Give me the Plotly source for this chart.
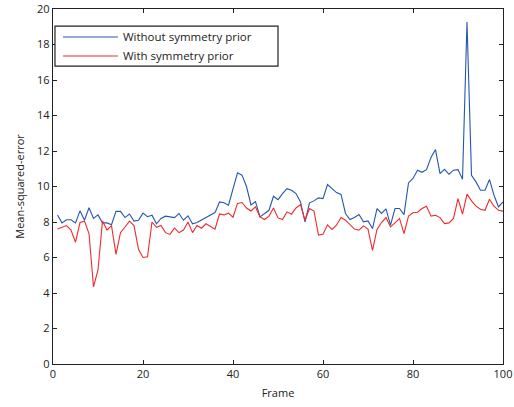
import plotly.graph_objects as go

frames = list(range(1, 101))

without_prior = [
    8.40, 7.95, 8.13, 8.13, 7.95, 8.63, 8.10, 8.80, 8.20, 8.40,
    7.95, 7.95, 7.85, 8.60, 8.60, 8.25, 8.45, 8.05, 8.10, 8.50,
    8.30, 8.38, 7.90, 8.20, 8.33, 8.30, 8.25, 8.48, 8.10, 8.35,
    7.90, 7.97, 8.10, 8.23, 8.38, 8.53, 9.13, 9.08, 8.95, 9.80,
    10.77, 10.64, 10.00, 8.96, 9.15, 8.29, 8.47, 8.66, 9.45, 9.26,
    9.60, 9.88, 9.79, 9.60, 9.13, 8.00, 9.08, 9.19, 9.36, 9.32,
    10.11, 9.89, 9.66, 9.55, 8.48, 8.14, 8.25, 8.42, 8.01, 8.06,
    7.63, 8.76, 8.48, 8.74, 7.82, 8.76, 8.76, 8.42, 10.20, 10.45,
    10.92, 10.80, 10.95, 11.63, 12.08, 10.73, 10.97, 10.69, 10.92, 10.95,
    10.41, 19.27, 10.63, 10.26, 9.79, 9.79, 10.39, 9.51, 8.85, 9.13,
]

with_prior = [
    7.60, 7.72, 7.80, 7.55, 6.86, 7.97, 8.05, 7.35, 4.35, 5.30,
    8.05, 7.55, 7.80, 6.18, 7.40, 7.72, 8.05, 7.80, 6.46, 6.00,
    6.04, 8.00, 7.70, 7.80, 7.40, 7.30, 7.65, 7.40, 7.55, 8.00,
    7.40, 7.80, 7.65, 7.90, 7.77, 7.60, 8.45, 8.40, 8.50, 8.27,
    9.05, 9.10, 8.79, 8.62, 8.85, 8.29, 8.14, 8.33, 8.79, 8.23,
    8.14, 8.57, 8.44, 8.79, 8.98, 8.10, 8.76, 8.62, 7.26, 7.31,
    7.84, 7.58, 7.82, 8.25, 8.10, 7.87, 7.60, 7.54, 7.78, 7.60,
    6.40, 7.58, 7.97, 8.25, 7.72, 7.95, 8.20, 7.35, 8.33, 8.52,
    8.55, 8.76, 8.89, 8.33, 8.38, 8.25, 7.91, 7.95, 8.20, 9.32,
    8.44, 9.57, 9.19, 8.89, 8.72, 8.66, 9.28, 8.89, 8.66, 8.61,
]

x_ticks = [0, 20, 40, 60, 80, 100]
y_ticks = [0, 2, 4, 6, 8, 10, 12, 14, 16, 18, 20]

fig = go.Figure()
fig.add_trace(go.Scatter(x=frames, y=without_prior, mode="lines",
                         name="Without symmetry prior",
                         line=dict(color="#2457b0", width=1.1)))
fig.add_trace(go.Scatter(x=frames, y=with_prior, mode="lines",
                         name="With symmetry prior",
                         line=dict(color="#f02a2a", width=1.1)))

font_family = "Open Sans, DejaVu Sans, sans-serif"
axis_common = dict(
    showline=True, linecolor="#222222", linewidth=1.3, mirror="ticks",
    ticks="inside", ticklen=4, tickcolor="#222222", tickwidth=1,
    showgrid=False, zeroline=False, automargin=False,
    tickfont=dict(family=font_family, size=11, color="#222222"),
)

# legend frame (paper coordinates of the plot area)
fig.add_shape(type="rect", xref="paper", yref="paper",
              x0=0.0044, x1=0.5, y0=0.839, y1=0.952,
              line=dict(color="#222222", width=1.2),
              fillcolor="white", layer="above")

fig.update_layout(
    width=514, height=407,
    margin=dict(l=53, r=11, t=9, b=43),
    paper_bgcolor="white", plot_bgcolor="white",
    font=dict(family=font_family, size=11, color="#222222"),
    showlegend=True,
    legend=dict(x=0.011, y=0.962, xanchor="left", yanchor="top",
                borderwidth=0, bgcolor="rgba(0,0,0,0)",
                font=dict(family=font_family, size=11.5, color="#222222"),
                tracegroupgap=0, itemwidth=55),
    xaxis=dict(range=[0, 100], tickvals=x_ticks,
               title=dict(text="Frame", standoff=8,
                          font=dict(family=font_family, size=11)),
               **axis_common),
    yaxis=dict(range=[0, 20], tickvals=y_ticks,
               title=dict(text="Mean-squared-error", standoff=10,
                          font=dict(family=font_family, size=11)),
               **axis_common),
)

fig.write_html("out.html")
